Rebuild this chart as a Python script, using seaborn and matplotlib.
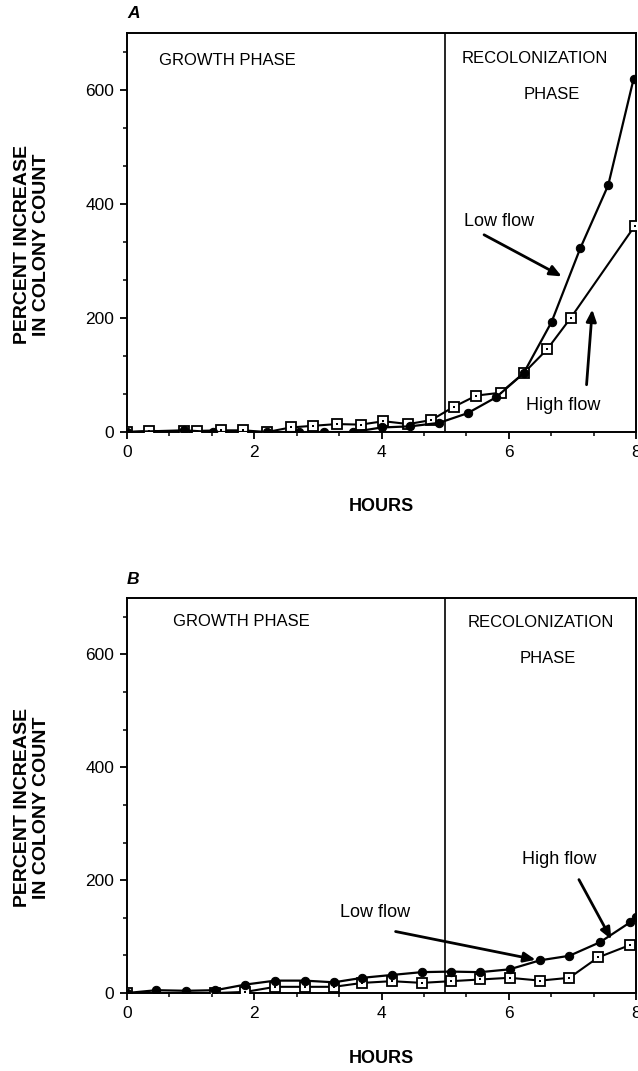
import matplotlib
matplotlib.use("Agg")
import matplotlib.pyplot as plt
from matplotlib.ticker import MultipleLocator, AutoMinorLocator
import seaborn as sns
import pandas as pd

# ---------------- data ----------------
# Panel A
a_low_hours = [0.0, 0.9, 1.35, 2.2, 2.7, 3.1, 3.55, 4.0, 4.45, 4.9, 5.35, 5.8, 6.23, 6.67, 7.12, 7.56, 7.96]
a_low_pct = [0, 3, 0, 0, 0, 0, 0, 8, 10, 16, 33, 61, 103, 193, 322, 433, 620]
a_high_hours = [0.0, 0.35, 0.9, 1.1, 1.47, 1.83, 2.2, 2.57, 2.93, 3.3, 3.67, 4.03, 4.42, 4.78,
                5.13, 5.49, 5.87, 6.23, 6.6, 6.97, 7.98]
a_high_pct = [0, 2, 1, 2, 3, 3, 0, 8, 11, 14, 13, 19, 14, 21, 44, 64, 69, 103, 145, 200, 362]

# Panel B
b_low_hours = [0.0, 0.46, 0.93, 1.39, 1.86, 2.33, 2.79, 3.25, 3.70, 4.16, 4.63, 5.09, 5.55,
               6.01, 6.49, 6.95, 7.43, 7.9, 8.0]
b_low_pct = [0, 5, 4, 5, 15, 22, 22, 19, 27, 32, 37, 38, 37, 42, 58, 66, 90, 125, 134]
b_high_hours = [0.0, 1.39, 1.86, 2.33, 2.79, 3.25, 3.70, 4.16, 4.63, 5.09, 5.55, 6.01, 6.49,
                6.95, 7.40, 7.90]
b_high_pct = [0, 0, 2, 11, 11, 11, 18, 21, 18, 21, 24, 27, 22, 27, 63, 85]

phase_boundary = 5
x_ticks = [0, 2, 4, 6, 8]
y_ticks = [0, 200, 400, 600]
ylabel_text = "PERCENT INCREASE\nIN COLONY COUNT"
xlabel_text = "HOURS"

# ---------------- style ----------------
sns.set_style("ticks")
plt.rcParams["font.family"] = ["Liberation Sans", "DejaVu Sans"]
plt.rcParams["axes.linewidth"] = 1.4
plt.rcParams["axes.edgecolor"] = "black"
plt.rcParams["text.color"] = "black"
plt.rcParams["axes.labelcolor"] = "black"
plt.rcParams["xtick.color"] = "black"
plt.rcParams["ytick.color"] = "black"

fig = plt.figure(figsize=(6.38, 10.71), dpi=100)
axA = fig.add_axes([0.199, 0.5966, 0.7982, 0.3726])
axB = fig.add_axes([0.199, 0.0728, 0.7982, 0.3688])


def draw_series(ax, hx, hy, lx, ly):
    high = pd.DataFrame({"hours": hx, "pct": hy})
    low = pd.DataFrame({"hours": lx, "pct": ly})
    sns.lineplot(data=high, x="hours", y="pct", ax=ax, color="black", lw=1.5,
                 marker="s", markersize=6.5, markerfacecolor="white",
                 markeredgecolor="black", markeredgewidth=1.3, zorder=3)
    sns.lineplot(data=high, x="hours", y="pct", ax=ax, color="black", lw=0,
                 marker="s", markersize=1.8, markerfacecolor="black",
                 markeredgecolor="black", markeredgewidth=0, zorder=4)
    sns.lineplot(data=low, x="hours", y="pct", ax=ax, color="black", lw=1.6,
                 marker="o", markersize=6, markerfacecolor="black",
                 markeredgecolor="black", zorder=5)


def style_axis(ax, label_y_x, xlabel_y):
    ax.set_xlim(0, 8)
    ax.set_ylim(0, 700)
    ax.xaxis.set_major_locator(MultipleLocator(2))
    ax.xaxis.set_minor_locator(AutoMinorLocator(3))
    ax.yaxis.set_major_locator(MultipleLocator(200))
    ax.yaxis.set_minor_locator(AutoMinorLocator(3))
    ax.set_xticks(x_ticks)
    ax.set_yticks(y_ticks)
    ax.tick_params(which="major", direction="out", length=5, width=1.3, labelsize=12.5,
                   pad=4, colors="black")
    ax.tick_params(which="minor", direction="out", length=3, width=1.1, colors="black")
    for s in ax.spines.values():
        s.set_visible(True)
        s.set_linewidth(1.4)
        s.set_color("black")
    ax.axvline(phase_boundary, color="black", lw=1.2, zorder=2)
    ax.set_ylabel(ylabel_text, fontsize=14, fontweight="bold", linespacing=1.15, color="black")
    ax.yaxis.set_label_coords(label_y_x, 0.47)
    ax.set_xlabel(xlabel_text, fontsize=13, fontweight="bold", color="black")
    ax.xaxis.set_label_coords(0.5, xlabel_y)
    ax.grid(False)


arrow_kw = dict(arrowstyle="-|>,head_length=0.7,head_width=0.3", lw=2.0, color="black",
                shrinkA=0, shrinkB=0)

# Panel A
draw_series(axA, a_high_hours, a_high_pct, a_low_hours, a_low_pct)
style_axis(axA, -0.152, -0.165)
axA.text(1.57, 652, "GROWTH PHASE", fontsize=12, ha="center", va="center")
axA.text(6.40, 655, "RECOLONIZATION", fontsize=12, ha="center", va="center")
axA.text(6.67, 592, "PHASE", fontsize=12, ha="center", va="center")
axA.text(5.84, 369, "Low flow", fontsize=13, ha="center", va="center")
axA.annotate("", xy=(6.83, 273), xytext=(5.61, 346), arrowprops=arrow_kw)
axA.text(6.86, 46, "High flow", fontsize=13, ha="center", va="center")
axA.annotate("", xy=(7.31, 215), xytext=(7.22, 83), arrowprops=arrow_kw)

# Panel B
draw_series(axB, b_high_hours, b_high_pct, b_low_hours, b_low_pct)
style_axis(axB, -0.152, -0.145)
axB.text(1.80, 659, "GROWTH PHASE", fontsize=12, ha="center", va="center")
axB.text(6.50, 657, "RECOLONIZATION", fontsize=12, ha="center", va="center")
axB.text(6.61, 593, "PHASE", fontsize=12, ha="center", va="center")
axB.text(3.90, 142, "Low flow", fontsize=13, ha="center", va="center")
axB.annotate("", xy=(6.42, 59), xytext=(4.22, 109), arrowprops=arrow_kw)
axB.text(6.79, 237, "High flow", fontsize=13, ha="center", va="center")
axB.annotate("", xy=(7.61, 95), xytext=(7.10, 201), arrowprops=arrow_kw)

# panel letters
fig.text(127 / 638, 1 - 13 / 1071, "A", fontsize=12.5, fontweight="bold", fontstyle="italic",
         ha="left", va="center")
fig.text(127 / 638, 1 - 580 / 1071, "B", fontsize=12.5, fontweight="bold", fontstyle="italic",
         ha="left", va="center")

fig.savefig("out.png", dpi=100)
